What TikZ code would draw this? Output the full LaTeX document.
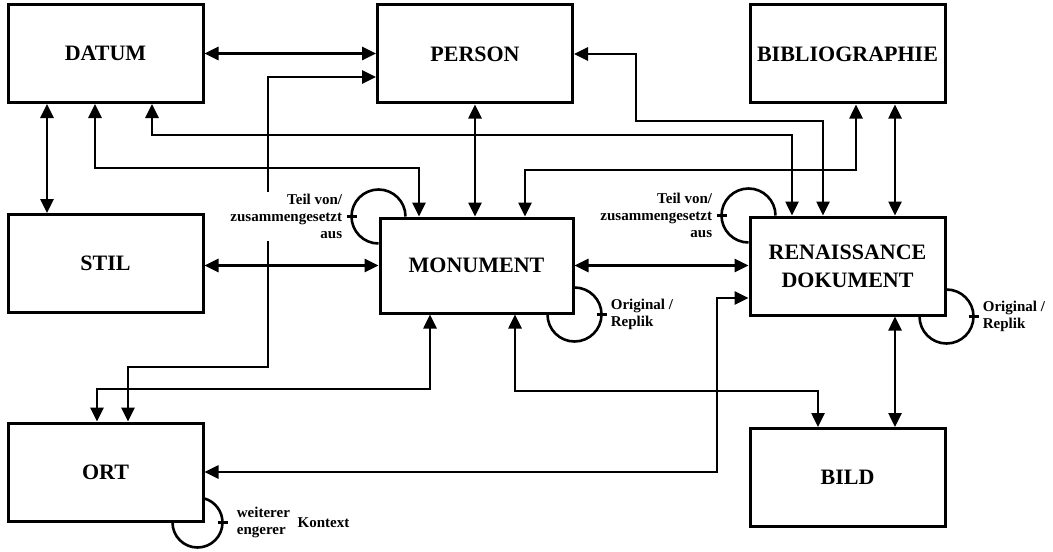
\documentclass[tikz,border=0pt]{standalone}
\usepackage{fontspec}
\setmainfont{Liberation Serif}
\usetikzlibrary{arrows.meta}

\tikzset{
  entity/.style={draw, line width=1.5pt, minimum width=97.5pt, minimum height=49pt,
    inner sep=0pt, align=center, font=\bfseries\fontsize{11}{14}\selectfont},
  rel/.style={line width=1.3pt, {Triangle[length=7pt,width=6.5pt]}-{Triangle[length=7pt,width=6.5pt]}},
  selfloop/.style={line width=1.3pt},
  tag/.style={font=\bfseries\fontsize{7.5}{8.5}\selectfont, inner sep=1pt},
}

\begin{document}
\begin{tikzpicture}[x=0.5pt, y=0.5pt]
\useasboundingbox (0,0) rectangle (1053,-551);

% entities
\node[entity] (datum) at (105.5,-53.5) {DATUM};
\node[entity] (person) at (475,-54) {PERSON};
\node[entity] (biblio) at (847.5,-54) {BIBLIOGRAPHIE};
\node[entity] (stil) at (105.5,-263.5) {STIL};
\node[entity, minimum width=96.5pt, minimum height=47.5pt] (monument) at (476.5,-265.5) {MONUMENT};
\node[entity] (renaissance) at (847.5,-266) {RENAISSANCE\\DOKUMENT};
\node[entity] (ort) at (105.5,-472) {ORT};
\node[entity] (bild) at (847.5,-477.5) {BILD};

% relations
\draw[rel] (datum.east) -- (datum.east -| person.west);
\draw[rel] (datum.south -| 47,0) -- (stil.north -| 47,0);
\draw[rel] (datum.south -| 95,0) -- (95,-168) -| (monument.north -| 419,0);
\draw[rel] (datum.south -| 152,0) -- (152,-135) -| (renaissance.north -| 792,0);
\draw[rel] (person.east) -| (636,-121) -| (renaissance.north -| 823,0);
\draw[rel] (person.south) -- (monument.north -| person.south);
\draw[rel] (biblio.south -| 856,0) -- (856,-170) -| (monument.north -| 525,0);
\draw[rel] (biblio.south -| 895,0) -- (renaissance.north -| 895,0);
\draw[rel] (stil.east |- monument.west) -- (monument.west);
\draw[rel] (monument.east) -- (monument.east -| renaissance.west);
\draw[rel] (person.west |- 0,-77) -| (268,-367) -| (ort.north -| 128,0);
\draw[rel] (monument.south -| 430,0) -- (430,-389) -| (ort.north -| 97,0);
\draw[rel] (monument.south -| 515,0) -- (515,-391) -| (bild.north -| 818,0);
\draw[rel] (ort.east) -| (717,-298) -- (renaissance.west |- 0,-298);
\draw[rel] (renaissance.south -| 895,0) -- (bild.north -| 895,0);

% self relations
\draw[selfloop] (monument.north west) ++(13.5pt,0) arc[start angle=0, end angle=270, radius=13.5pt];
\draw[selfloop] ([xshift=-16pt]monument.north west) -- ([xshift=-11pt]monument.north west);
\draw[selfloop] (renaissance.north west) ++(13.5pt,0) arc[start angle=0, end angle=270, radius=13.5pt];
\draw[selfloop] ([xshift=-16pt]renaissance.north west) -- ([xshift=-11pt]renaissance.north west);
\draw[selfloop] (monument.south east) ++(-13.5pt,0) arc[start angle=180, end angle=450, radius=13.5pt];
\draw[selfloop] ([xshift=11pt]monument.south east) -- ([xshift=16pt]monument.south east);
\draw[selfloop] (renaissance.south east) ++(-13.5pt,0) arc[start angle=180, end angle=450, radius=13.5pt];
\draw[selfloop] ([xshift=11pt]renaissance.south east) -- ([xshift=16pt]renaissance.south east);
\draw[selfloop] ([xshift=-3.5pt]ort.south east) ++(-12.5pt,0) arc[start angle=180, end angle=434, radius=12.5pt];
\draw[selfloop] ([xshift=6.5pt]ort.south east) -- ([xshift=11.5pt]ort.south east);

% labels
\node[tag, fill=white, anchor=east, align=right] (monpart) at ([xshift=-17pt]monument.north west) {Teil von/\\zusammengesetzt\\aus};
\node[tag, anchor=east, align=right] (docpart) at ([xshift=-17pt]renaissance.north west) {Teil von/\\zusammengesetzt\\aus};
\node[tag, anchor=west, align=left] (monorig) at ([xshift=17pt]monument.south east) {Original /\\Replik};
\node[tag, anchor=west, align=left] (docorig) at ([xshift=17pt]renaissance.south east) {Original /\\Replik};
\node[tag, anchor=west, align=left] (ortctx) at ([xshift=15pt]ort.south east) {weiterer\\engerer};
\node[tag, anchor=west] (ortkon) at ([xshift=1.5pt]ortctx.east) {Kontext};
\end{tikzpicture}
\end{document}
